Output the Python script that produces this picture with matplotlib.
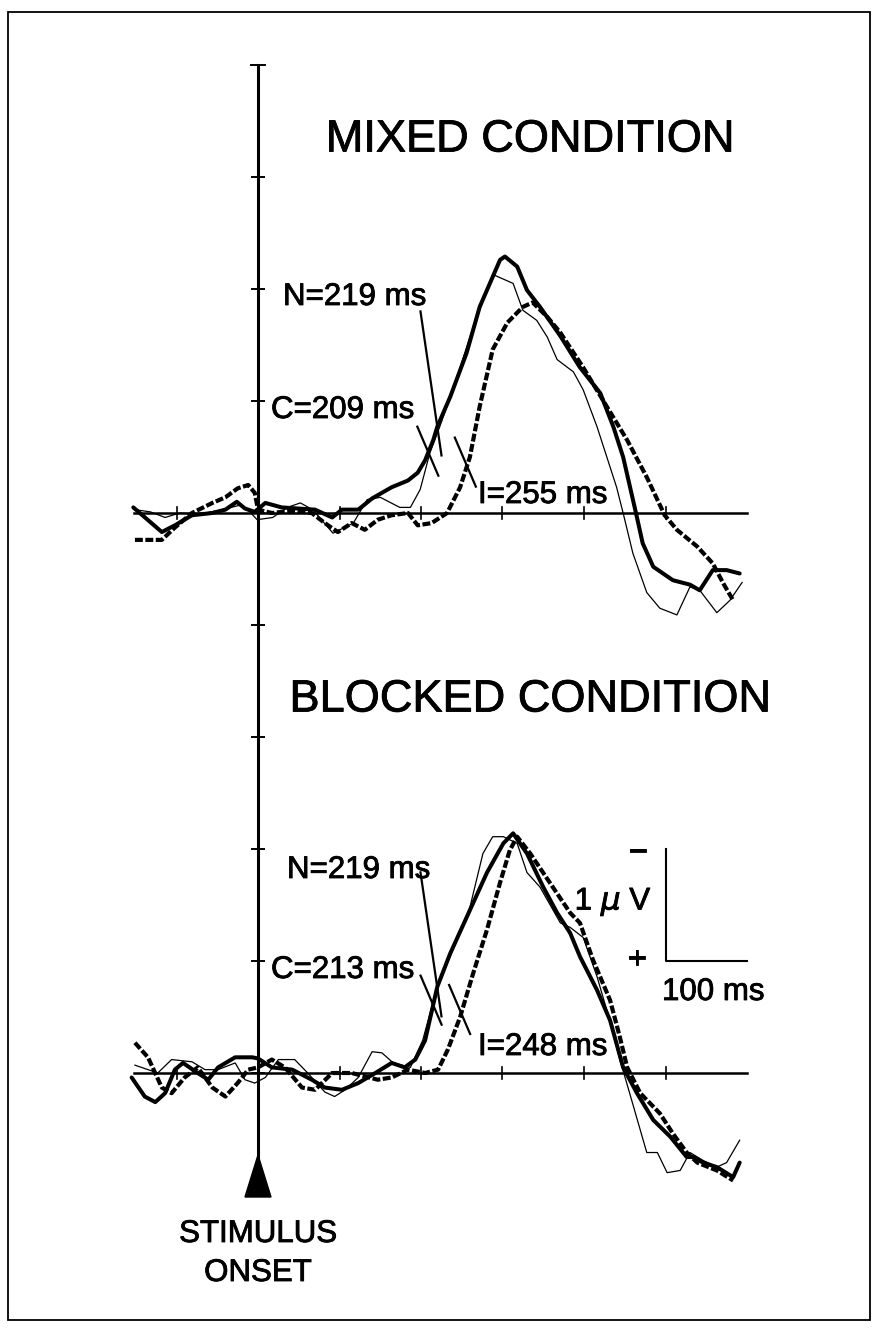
import numpy as np
import matplotlib
matplotlib.use("Agg")
import matplotlib.pyplot as plt
import matplotlib.patheffects as pe
from matplotlib.patches import Rectangle, Polygon

plt.rcParams['font.family'] = ['Liberation Sans', 'DejaVu Sans']

# ---- data: ERP waveforms (ms, uV; negative plotted up) ----
# mixed condition
mix_n_t = [-153, -118, -102, -81, -56, -40, -26, -16, -4, 9, 29, 49, 70, 91, 103, 123, 140, 164, 184, 196,
           205, 215, 220, 236, 256, 272, 297, 303, 318, 330, 346, 371, 395, 420, 436, 448, 460, 465, 472,
           485, 509, 530, 542, 558, 575, 591]
mix_n_v = [-0.05, 0.17, 0.11, 0.02, 0.00, -0.03, -0.10, -0.04, -0.01, -0.09, -0.05, -0.04, -0.03, 0.04,
           -0.03, -0.03, -0.13, -0.23, -0.29, -0.36, -0.47, -0.65, -0.77, -1.04, -1.43, -1.84, -2.26, -2.29,
           -2.20, -1.99, -1.84, -1.58, -1.30, -1.07, -0.77, -0.50, -0.12, 0.04, 0.27, 0.48, 0.60, 0.64, 0.69,
           0.51, 0.51, 0.54]

mix_c_t = [-151, -132, -114, -96, -71, -44, -22, -10, -1, 18, 36, 52, 67, 92, 117, 134, 150, 174, 187, 199,
           211, 223, 239, 264, 281, 288, 313, 325, 342, 355, 367, 387, 399, 416, 428, 440, 448, 460, 477,
           493, 514, 530, 542, 563, 579, 594]
mix_c_v = [-0.03, -0.01, 0.04, 0.00, 0.01, -0.03, -0.07, -0.01, 0.06, 0.04, -0.05, -0.09, -0.03, 0.18,
           0.09, -0.12, -0.14, -0.05, -0.05, -0.21, -0.54, -0.77, -1.10, -1.66, -1.99, -2.13, -2.05, -1.81,
           -1.72, -1.57, -1.37, -1.26, -1.10, -0.77, -0.50, -0.23, 0.00, 0.36, 0.71, 0.85, 0.91, 0.66, 0.69,
           0.89, 0.78, 0.62]

mix_i_t = [-151, -118, -102, -81, -56, -40, -25, -12, -4, 0, 17, 42, 66, 82, 98, 115, 131, 147, 164, 184,
           196, 213, 232, 248, 260, 272, 288, 306, 325, 337, 355, 371, 399, 428, 453, 477, 499, 514, 539,
           558, 571, 583]
mix_i_v = [0.24, 0.24, 0.13, 0.00, -0.09, -0.14, -0.22, -0.25, -0.18, -0.03, 0.00, -0.02, 0.00, 0.09,
           0.17, 0.09, 0.15, 0.06, 0.02, 0.00, 0.11, 0.09, 0.00, -0.23, -0.50, -0.95, -1.46, -1.70, -1.84,
           -1.88, -1.75, -1.61, -1.30, -0.95, -0.65, -0.32, 0.02, 0.15, 0.30, 0.45, 0.63, 0.78]

# blocked condition
blk_n_t = [-155, -139, -126, -114, -102, -92, -74, -61, -49, -28, -7, 0, 17, 42, 66, 82, 103, 123, 144,
           164, 180, 193, 205, 220, 236, 256, 281, 301, 313, 330, 350, 367, 383, 395, 416, 432, 448, 465,
           485, 506, 526, 534, 546, 563, 583, 591]
blk_n_v = [0.04, 0.21, 0.26, 0.18, -0.03, -0.09, 0.00, 0.06, -0.05, -0.14, -0.14, -0.13, -0.05, -0.03,
           0.06, 0.13, 0.15, 0.09, 0.00, -0.09, -0.05, -0.12, -0.29, -0.77, -1.07, -1.39, -1.79, -2.05,
           -2.14, -1.96, -1.66, -1.43, -1.25, -1.04, -0.74, -0.47, -0.05, 0.18, 0.42, 0.57, 0.75, 0.75,
           0.80, 0.84, 0.93, 0.80]

blk_c_t = [-151, -123, -106, -81, -65, -49, -28, -16, -4, 9, 25, 45, 61, 82, 94, 107, 123, 140, 152, 166,
           187, 202, 220, 239, 260, 276, 288, 301, 318, 330, 346, 371, 383, 399, 416, 428, 444, 456, 477,
           490, 502, 518, 530, 546, 563, 575, 591]
blk_c_v = [-0.07, 0.00, -0.12, -0.10, -0.03, -0.03, -0.09, 0.06, 0.09, 0.04, -0.12, -0.12, 0.00, 0.17,
           0.21, 0.15, 0.04, -0.19, -0.18, -0.09, -0.05, -0.29, -0.77, -1.10, -1.48, -1.96, -2.11, -2.11,
           -2.05, -1.79, -1.66, -1.34, -1.30, -1.21, -0.86, -0.56, -0.12, 0.18, 0.71, 0.71, 0.89, 0.87,
           0.71, 0.78, 0.84, 0.80, 0.60]

blk_i_t = [-151, -135, -118, -106, -90, -74, -56, -40, -25, -12, 0, 17, 33, 54, 70, 91, 115, 147, 164, 184,
           205, 221, 233, 248, 264, 281, 297, 309, 318, 334, 358, 383, 395, 411, 432, 444, 453, 469, 493,
           509, 526, 539, 563, 583]
blk_i_v = [-0.27, -0.14, 0.13, 0.18, 0.04, -0.05, 0.13, 0.21, 0.09, -0.03, -0.05, -0.12, -0.05, 0.13,
           0.15, 0.00, 0.00, 0.06, 0.04, -0.03, 0.00, -0.03, -0.21, -0.50, -0.89, -1.28, -1.70, -1.99,
           -2.11, -1.96, -1.70, -1.43, -1.34, -1.01, -0.65, -0.32, -0.05, 0.18, 0.36, 0.54, 0.71, 0.80,
           0.87, 0.96]

# onset latencies (ms)
mix_lat = {'N': 219, 'C': 209, 'I': 255}
blk_lat = {'N': 219, 'C': 213, 'I': 248}

x_ticks = [-100, 0, 100, 200, 300, 400, 500]
panel_base = {'mixed': 5, 'blocked': 0}   # baseline, in uV steps above lower baseline

# ---- layout helpers (pixel geometry of the page) ----
W, H = 878, 1328
X0, Y0, SX, SY = 258, 1073, 0.815, 112.0   # px of (0 ms, lower baseline), px per ms, px per uV


def px(x, y):
    return (x - X0) / SX, (Y0 - y) / SY


def dpx(dx, dy):
    return dx / SX, -dy / SY


fig = plt.figure(figsize=(W / 100, H / 100), dpi=100)
ax = fig.add_axes([0, 0, 1, 1])
ax.set_xlim(px(0, 0)[0], px(W, 0)[0])
ax.set_ylim(px(0, H)[1], px(0, 0)[1])
ax.axis('off')

# page frame
fig.patches.append(Rectangle((8 / W, 1 - 1320 / H), 862 / W, 1308 / H, transform=fig.transFigure,
                             fill=False, lw=1.3, ec='black'))

thick = dict(color='black', lw=2.9, solid_capstyle='round', solid_joinstyle='round')
thin = dict(color='black', lw=0.9)
dash = dict(color='black', lw=3.0, linestyle=(0, (1.9, 0.6)))

# vertical axis with ticks, down to the onset arrow
y_top, y_bot = 9, px(0, 1175)[1]
ax.plot([0, 0], [y_bot, y_top], color='black', lw=2.2, zorder=3)
tw = dpx(6, 0)[0]
for k in range(0, 10):
    w = tw * (1.2 if k == y_top else 1.0)
    ax.plot([-w, w], [k, k], color='black', lw=1.4, zorder=3)
ah = dpx(0, 42)[1]
aw = dpx(13, 0)[0]
ab = px(0, 1197)[1]
ax.add_patch(Polygon([[-aw, ab], [aw, ab], [0, ab - ah]], closed=True, color='black', zorder=4))

curves = {
    'mixed': [(mix_n_t, mix_n_v, thick), (mix_c_t, mix_c_v, thin), (mix_i_t, mix_i_v, dash)],
    'blocked': [(blk_n_t, blk_n_v, thick), (blk_c_t, blk_c_v, thin), (blk_i_t, blk_i_v, dash)],
}
lats = {'mixed': mix_lat, 'blocked': blk_lat}

for name, base in panel_base.items():
    # baseline with time ticks
    ax.plot([-152, 600], [base, base], color='black', lw=1.8, zorder=2)
    th = dpx(0, 6)[1]
    for t in x_ticks:
        ax.plot([t, t], [base + th, base - th], color='black', lw=1.2, zorder=2)
    for t, v, st in curves[name]:
        ax.plot(t, base - np.array(v), zorder=5, **st)
    # onset marks
    lat = lats[name]
    for key, (t, v, st) in zip(['N', 'C', 'I'], curves[name]):
        cx = lat[key]
        cy = base - np.interp(cx, t, v)
        if key == 'N':
            a, b = dpx(-16, -118), dpx(5, 26)
        else:
            a, b = dpx(-11, -32), dpx(10, 17)
        ax.plot([cx + a[0], cx + b[0]], [cy + a[1], cy + b[1]], color='black', lw=1.6, zorder=6)

fs = 22.5
heavy = [pe.withStroke(linewidth=0.6, foreground='black')]


def label(x, y, s, size=fs, **kw):
    ax.text(*px(x, y), s, fontsize=size, va='center', path_effects=heavy, **kw)


# panel titles
label(530, 140, 'MIXED CONDITION', size=32.5, ha='center')
label(530, 700, 'BLOCKED CONDITION', size=32.5, ha='center')

# latency labels
label(283, 297, 'N=%d ms' % mix_lat['N'])
label(271, 410, 'C=%d ms' % mix_lat['C'])
label(478, 495, 'I=%d ms' % mix_lat['I'])
label(287, 870, 'N=%d ms' % blk_lat['N'])
label(271, 970, 'C=%d ms' % blk_lat['C'])
label(478, 1047, 'I=%d ms' % blk_lat['I'])

# scale bar: 1 uV x 100 ms
ax.plot([500, 500, 600], [2, 1, 1], color='black', lw=1.5)
label(638, 853, '\u2212', ha='center')
label(637, 960, '+', ha='center')
label(652, 902, '1 $\\mu$ V', ha='right')
label(662, 992, '100 ms', ha='left')

# stimulus onset label
label(258, 1234, 'STIMULUS', ha='center')
label(258, 1273, 'ONSET', ha='center')

fig.savefig('out.png', dpi=100)
